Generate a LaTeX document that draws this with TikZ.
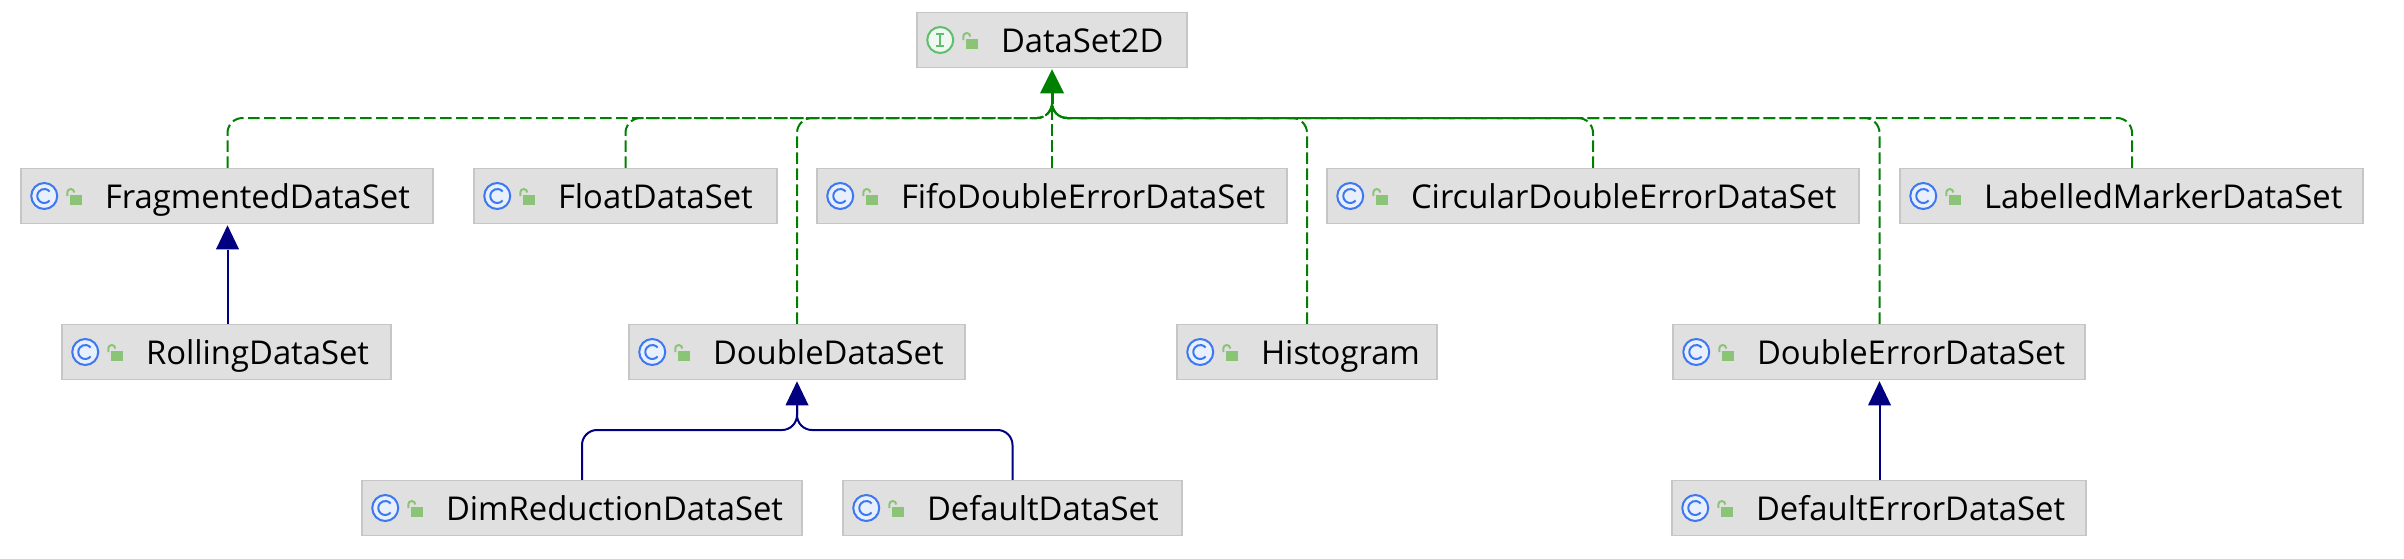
\documentclass[tikz,border=0pt]{standalone}
\usepackage{fontspec}
\setmainfont{Open Sans}
\usetikzlibrary{arrows.meta,calc}
\definecolor{boxfill}{HTML}{E0E0E0}
\definecolor{boxline}{HTML}{C6C6C6}
\definecolor{implgreen}{HTML}{008000}
\definecolor{extblue}{HTML}{000080}
\definecolor{iconblue}{HTML}{3D78F0}
\definecolor{iconbluefill}{HTML}{E8F0FE}
\definecolor{icongreen}{HTML}{5FBE6E}
\definecolor{icongreenfill}{HTML}{EEF8F0}
\definecolor{lockgreen}{HTML}{8CC477}
\newlength{\pxu}\setlength{\pxu}{0.75pt}
\tikzset{
  clsbox/.style={draw=boxline,fill=boxfill,line width=1.5\pxu,rectangle,inner sep=0pt,minimum height=55\pxu,anchor=center},
  impl/.style={draw=implgreen,line width=2\pxu,dash pattern=on 11.5\pxu off 4.5\pxu,rounded corners=15\pxu},
  ext/.style={draw=extblue,line width=2\pxu,rounded corners=15\pxu},
  implhead/.style={fill=implgreen,draw=none},
  exthead/.style={fill=extblue,draw=none},
}
\newcommand{\lockicon}[1]{%
  \fill[lockgreen] ($(#1.west)+(50,-1)$) rectangle ($(#1.west)+(62,9)$);
  \draw[lockgreen,line width=2\pxu] ($(#1.west)+(47,0)$) -- ($(#1.west)+(47,-3.5)$) arc[start angle=180,end angle=360,radius=3.5];
}
\newcommand{\cicon}[1]{%
  \draw[iconblue,fill=iconbluefill,line width=2\pxu] ($(#1.west)+(24,0)$) circle[radius=13];
  \draw[iconblue,line width=2\pxu] ($(#1.west)+(24,0)+(40:7)$) arc[start angle=40,end angle=320,radius=7];
  \lockicon{#1}
}
\newcommand{\iicon}[1]{%
  \draw[icongreen,fill=icongreenfill,line width=2\pxu] ($(#1.west)+(24,0)$) circle[radius=13];
  \draw[icongreen,line width=2\pxu] ($(#1.west)+(20,-6)$) -- ($(#1.west)+(28,-6)$) ($(#1.west)+(20,6)$) -- ($(#1.west)+(28,6)$) ($(#1.west)+(24,-6)$) -- ($(#1.west)+(24,6)$);
  \lockicon{#1}
}
% #1 name, #2 left, #3 right, #4 centre y, #5 text
\newcommand{\cls}[5]{%
  \pgfmathsetlengthmacro{\boxw}{(#3-#2)*\pxu}%
  \node[clsbox,minimum width=\boxw] (#1) at ({(#2+#3)/2},#4) {\makebox[\boxw][l]{\hspace*{84\pxu}\fontsize{24.6}{28}\selectfont\rule[-10\pxu]{0pt}{45\pxu}#5}};
}
\begin{document}
\begin{tikzpicture}[x=0.75pt,y=-0.75pt]
\useasboundingbox (0,0) rectangle (2404,558);
\cls{ds}{917}{1187}{40}{DataSet2D}
\cls{frag}{21}{433}{196}{FragmentedDataSet}
\cls{flt}{474}{777}{196}{FloatDataSet}
\cls{fifo}{817}{1287}{196}{FifoDoubleErrorDataSet}
\cls{circ}{1327}{1859}{196}{CircularDoubleErrorDataSet}
\cls{lab}{1900}{2363}{196}{LabelledMarkerDataSet}
\cls{roll}{62}{391}{352}{RollingDataSet}
\cls{dbl}{629}{965}{352}{DoubleDataSet}
\cls{hist}{1177}{1437}{352}{Histogram}
\cls{dberr}{1673}{2085}{352}{DoubleErrorDataSet}
\cls{dim}{362}{802}{508}{DimReductionDataSet}
\cls{def}{843}{1182}{508}{DefaultDataSet}
\cls{deferr}{1672}{2086}{508}{DefaultErrorDataSet}
\iicon{ds}
\foreach \n in {frag,flt,fifo,circ,lab,roll,dbl,hist,dberr,dim,def,deferr}{\cicon{\n}}
\coordinate (aj) at (1052,118);
\foreach \n/\x in {frag/227.5,flt/625.5,dbl/797,hist/1307,circ/1593,dberr/1879.5,lab/2132}{
  \draw[impl] (\n.north -| \x,0) -- (\x,118) -- (aj) -- ++(0,-20);
}
\draw[impl] (fifo.north -| aj) -- ++(0,-60);
\draw[draw=implgreen,line width=3\pxu] (1052,104) -- (1052,90);
\fill[implhead] (ds.south -| aj) ++(0,1) -- ++(12,24) -- ++(-24,0) -- cycle;
\draw[ext] (roll.north -| 227.5,0) -- (227.5,250);
\fill[exthead] (frag.south -| 227.5,0) ++(0,1) -- ++(11.5,24) -- ++(-23,0) -- cycle;
\coordinate (bj) at (797,430);
\draw[ext] (dim.north -| 582,0) -- (582,430) -- (bj) -- ++(0,-30);
\draw[ext] (def.north -| 1012.5,0) -- (1012.5,430) -- (bj) -- ++(0,-30);
\fill[exthead] (dbl.south -| 797,0) ++(0,1) -- ++(11.5,24) -- ++(-23,0) -- cycle;
\draw[ext] (deferr.north -| 1879.5,0) -- (1879.5,400);
\fill[exthead] (dberr.south -| 1879.5,0) ++(0,1) -- ++(11.5,24) -- ++(-23,0) -- cycle;
\end{tikzpicture}
\end{document}
